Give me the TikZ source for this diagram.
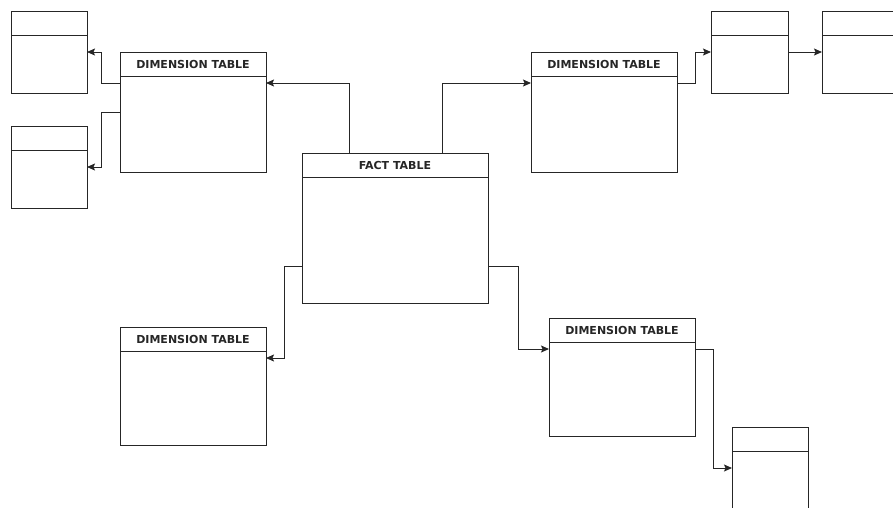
\documentclass[tikz,border=0pt]{standalone}
\usepackage{fontspec}
\setmainfont{DejaVu Sans}
\usetikzlibrary{arrows.meta,calc}
\tikzset{
  tbox/.style={draw=black!85, line width=1pt, fill=white, inner sep=0pt, outer sep=0pt},
  tline/.style={draw=black!85, line width=1pt},
  thead/.style={font=\bfseries\fontsize{11}{13}\selectfont, text=black!85, inner sep=0pt},
  conn/.style={draw=black!85, line width=1pt, -{Stealth[length=8pt,width=7pt,inset=1.5pt]}}
}
\newcommand{\dbtable}[6]{%
  \node[tbox, minimum width=#4, minimum height=#5, anchor=north west] (#1) at (#2,#3) {};
  \draw[tline] ([yshift=-24]#1.north west) -- ([yshift=-24]#1.north east);
  \node[thead] at ([yshift=-12.5]#1.north) {#6};
}
\begin{document}
\begin{tikzpicture}[x=1pt,y=-1pt]
\useasboundingbox[fill=white] (0,0) rectangle (893,507);
\begin{scope}
\clip (0,0) rectangle (893,507);
\dbtable{smallA}{11}{11}{76}{82}{}
\dbtable{smallB}{11}{126}{76}{82}{}
\dbtable{dimA}{120}{52}{146}{120}{DIMENSION TABLE}
\dbtable{fact}{302}{153}{186}{150}{FACT TABLE}
\dbtable{dimB}{531}{52}{146}{120}{DIMENSION TABLE}
\dbtable{smallC}{711}{11}{77}{82}{}
\dbtable{smallD}{822}{11}{76}{82}{}
\dbtable{dimC}{120}{327}{146}{118}{DIMENSION TABLE}
\dbtable{dimD}{549}{318}{146}{118}{DIMENSION TABLE}
\dbtable{smallE}{732}{427}{76}{82}{}

\draw[conn] ([xshift=47]fact.north west) |- ([yshift=-31]dimA.north east);
\draw[conn] ([xshift=140]fact.north west) |- ([yshift=-31]dimB.north west);
\draw[conn] ([yshift=-31]dimA.north west) -- ++(-19,0) |- ([yshift=-41]smallA.north east);
\draw[conn] ([yshift=-60]dimA.north west) -- ++(-19,0) |- ([yshift=-41]smallB.north east);
\draw[conn] ([yshift=-31]dimB.north east) -- ++(18,0) |- ([yshift=-41]smallC.north west);
\draw[conn] ([yshift=-41]smallC.north east) -- ([yshift=-41]smallD.north west);
\draw[conn] ([yshift=-113]fact.north west) -- ++(-18,0) |- ([yshift=-31]dimC.north east);
\draw[conn] ([yshift=-113]fact.north east) -- ++(30,0) |- ([yshift=-31]dimD.north west);
\draw[conn] ([yshift=-31]dimD.north east) -- ++(18,0) |- ([yshift=-41]smallE.north west);
\end{scope}
\end{tikzpicture}
\end{document}
